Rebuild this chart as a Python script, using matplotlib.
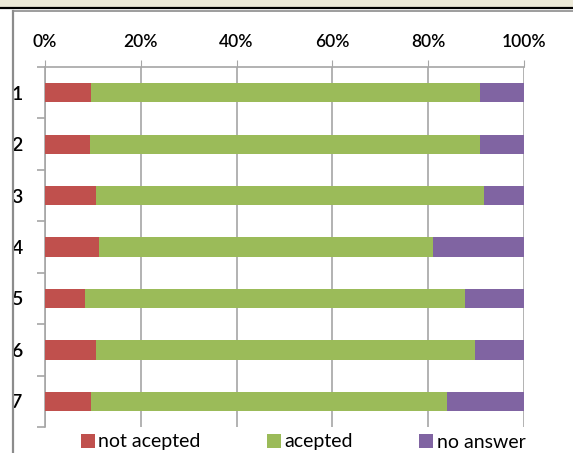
import matplotlib.pyplot as plt
import numpy as np
from matplotlib.lines import Line2D
from matplotlib.patches import Rectangle

plt.rcParams['font.family'] = ['Lato', 'DejaVu Sans']

questions = ['1', '2', '3', '4', '5', '6', '7']
not_acepted = [9.7, 9.4, 10.6, 11.3, 8.4, 10.6, 9.7]
acepted = [81.1, 81.4, 81.0, 69.6, 79.2, 79.2, 74.2]
no_answer = [9.2, 9.2, 8.4, 19.1, 12.4, 10.2, 16.1]
series = ['not acepted', 'acepted', 'no answer']
colors = ['#C0504D', '#9BBB59', '#8064A2']
xticks = [0, 20, 40, 60, 80, 100]

fig = plt.figure(figsize=(5.73, 4.53), dpi=100)
W, H = 573, 453

# strip of the page above the chart frame
fig.patches.append(Rectangle((0, 1 - 7 / H), 1, 7 / H, transform=fig.transFigure,
                             facecolor='#ECE9D8', edgecolor='none', zorder=0))
fig.add_artist(Line2D([0, 1], [1 - 7.5 / H] * 2, transform=fig.transFigure,
                      color='black', lw=1.6))
fig.add_artist(Line2D([13 / W, 1], [1 - 10.5 / H] * 2, transform=fig.transFigure,
                      color='#8C8C8C', lw=1.2))
fig.add_artist(Line2D([13 / W] * 2, [0, 1 - 10.5 / H], transform=fig.transFigure,
                      color='#8C8C8C', lw=1.6))

ax = fig.add_axes([45 / W, 1 - 427 / H, 479 / W, 360 / H])

y = np.arange(len(questions))
left = np.zeros(len(questions))
for vals, name, c in zip([not_acepted, acepted, no_answer], series, colors):
    ax.barh(y, vals, left=left, height=0.375, color=c, label=name, zorder=3)
    left += np.array(vals)

ax.set_xlim(0, 100)
ax.set_ylim(len(questions) - 0.5, -0.5)

ax.xaxis.tick_top()
ax.set_xticks(xticks)
ax.set_xticklabels([f'{v}%' for v in xticks], fontsize=12.5, color='black',
                   weight='semibold')
ax.tick_params(axis='x', length=5, color='#A6A6A6', pad=7)
ax.grid(axis='x', color='#A6A6A6', lw=1.2, zorder=0)

ax.set_yticks(y)
ax.set_yticklabels(questions, fontsize=14, color='black', weight='semibold')
ax.set_yticks(np.arange(len(questions) + 1) - 0.5, minor=True)
ax.tick_params(axis='y', which='major', length=0, pad=16)
ax.tick_params(axis='y', which='minor', length=6, color='#A6A6A6', width=1.2)

for s in ['right', 'bottom']:
    ax.spines[s].set_visible(False)
for s in ['left', 'top']:
    ax.spines[s].set_color('#A6A6A6')
    ax.spines[s].set_linewidth(1.2)

fig.legend(loc='center', bbox_to_anchor=(0.529, 1 - 442 / H), ncol=3,
           frameon=False, prop={'size': 14}, handlelength=0.7, handleheight=0.7,
           handletextpad=0.2, columnspacing=3.4, borderaxespad=0)

fig.savefig('out.png', dpi=100, facecolor='white')
